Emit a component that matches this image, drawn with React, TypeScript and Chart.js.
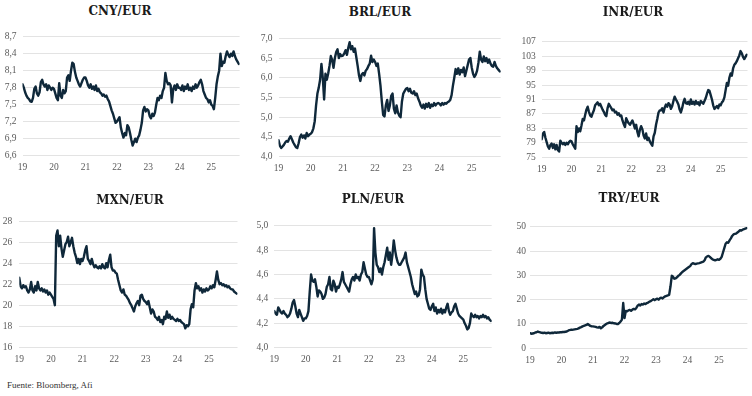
import React, { useEffect, useRef } from "react";
import { Chart, registerables } from "chart.js";

Chart.register(...registerables);

// ---------- data (semi-monthly readings, Jan 2019 – Nov 2025) ----------
const FIRST_YEAR = 2019;
const STEPS_PER_YEAR = 24;
const X_MAX = 2025.9;
const YEAR_TICKS = [2019, 2020, 2021, 2022, 2023, 2024, 2025];

const CNY = [
  7.86, 7.80, 7.72, 7.66, 7.62, 7.60, 7.56, 7.55, 7.62, 7.78, 7.82, 7.70, 7.66, 7.72, 7.90, 7.94, 7.86, 7.82, 7.86, 7.76, 7.84, 7.80, 7.76, 7.80,
  7.78, 7.70, 7.62, 7.58, 7.88, 7.66, 7.62, 7.76, 7.70, 7.74, 7.98, 8.02, 7.92, 8.10, 8.24, 8.22, 8.08, 7.98, 7.92, 7.86, 7.82, 7.88, 7.94, 7.98,
  7.98, 7.92, 7.84, 7.80, 7.86, 7.78, 7.82, 7.76, 7.84, 7.74, 7.78, 7.72, 7.70, 7.66, 7.68, 7.64, 7.66, 7.60, 7.56, 7.48, 7.40, 7.34, 7.26, 7.18,
  7.20, 7.24, 7.28, 7.10, 7.00, 6.92, 7.00, 6.96, 7.14, 7.10, 7.00, 6.88, 6.78, 6.84, 6.90, 6.84, 6.92, 6.96, 7.06, 7.18, 7.40, 7.46, 7.38, 7.42,
  7.40, 7.30, 7.26, 7.34, 7.30, 7.36, 7.50, 7.62, 7.58, 7.66, 7.62, 7.74, 7.80, 8.06, 7.92, 7.86, 7.88, 7.84, 7.54, 7.78, 7.84, 7.76, 7.86, 7.80,
  7.80, 7.76, 7.84, 7.74, 7.82, 7.78, 7.86, 7.76, 7.80, 7.74, 7.82, 7.78, 7.86, 7.80, 7.84, 7.90, 7.94, 7.86, 7.74, 7.68, 7.62, 7.60, 7.54, 7.58,
  7.50, 7.48, 7.42, 7.62, 7.86, 8.00, 8.10, 8.40, 8.18, 8.26, 8.24, 8.36, 8.44, 8.38, 8.34, 8.40, 8.36, 8.44, 8.36, 8.30, 8.26, 8.22,
];

const BRL = [
  4.42, 4.28, 4.22, 4.26, 4.30, 4.36, 4.40, 4.38, 4.46, 4.52, 4.44, 4.36, 4.30, 4.24, 4.22, 4.34, 4.50, 4.56, 4.48, 4.54, 4.46, 4.60, 4.52, 4.56,
  4.58, 4.62, 4.72, 4.90, 5.30, 5.60, 5.75, 5.95, 6.35, 6.00, 5.45, 6.10, 5.95, 6.10, 6.30, 6.55, 6.45, 6.25, 6.50, 6.65, 6.72, 6.50, 6.60, 6.55,
  6.56, 6.62, 6.70, 6.58, 6.76, 6.90, 6.72, 6.80, 6.66, 6.74, 6.52, 6.30, 6.06, 5.92, 6.08, 6.12, 6.06, 6.18, 6.22, 6.30, 6.36, 6.56, 6.40, 6.46,
  6.40, 6.30, 6.36, 6.10, 5.80, 5.40, 5.06, 5.02, 5.30, 5.44, 5.16, 5.30, 5.54, 5.60, 5.22, 5.10, 5.30, 5.12, 5.04, 5.00, 5.40, 5.60, 5.66, 5.72,
  5.74, 5.66, 5.72, 5.62, 5.60, 5.66, 5.56, 5.60, 5.48, 5.40, 5.30, 5.24, 5.32, 5.22, 5.34, 5.26, 5.36, 5.24, 5.32, 5.28, 5.36, 5.30, 5.34, 5.36,
  5.34, 5.30, 5.36, 5.32, 5.36, 5.34, 5.38, 5.40, 5.44, 5.56, 5.80, 6.00, 6.22, 6.10, 6.24, 6.08, 6.20, 6.14, 6.26, 6.04, 6.18, 6.32, 6.46, 6.50,
  6.26, 6.10, 6.02, 6.08, 6.18, 6.38, 6.66, 6.46, 6.40, 6.54, 6.42, 6.50, 6.38, 6.46, 6.36, 6.30, 6.28, 6.40, 6.30, 6.24, 6.20, 6.16,
];

const INR = [
  80.0, 81.6, 82.0, 80.4, 79.2, 78.0, 77.4, 78.4, 78.8, 77.6, 78.6, 77.2, 78.4, 77.0, 76.6, 79.6, 79.0, 78.6, 79.0, 78.4, 79.0, 78.6, 79.2, 79.6,
  79.4, 78.6, 78.0, 77.4, 83.6, 82.0, 83.0, 82.2, 83.8, 85.6, 85.2, 86.8, 88.2, 89.0, 87.6, 86.6, 86.2, 87.2, 88.0, 89.4, 89.8, 90.2, 89.4, 89.8,
  89.0, 88.2, 87.6, 86.8, 86.4, 88.6, 89.8, 89.2, 88.6, 88.0, 88.2, 87.4, 87.6, 86.8, 87.2, 86.4, 86.6, 85.2, 84.2, 83.4, 85.8, 85.0, 84.4, 84.0,
  84.6, 85.2, 84.2, 83.0, 84.0, 82.0, 80.8, 82.6, 83.6, 82.8, 81.0, 80.2, 81.6, 79.8, 80.4, 79.4, 78.8, 78.2, 80.8, 81.8, 84.0, 85.6, 87.4, 88.0,
  88.0, 88.6, 87.4, 88.8, 89.6, 89.0, 90.0, 89.6, 88.4, 89.2, 90.6, 91.8, 91.0, 90.4, 89.6, 88.2, 87.4, 88.6, 90.2, 91.2, 90.0, 89.8, 90.4, 89.6,
  91.0, 89.8, 90.4, 89.6, 90.6, 89.8, 90.2, 89.4, 90.6, 90.2, 89.8, 90.6, 91.4, 92.6, 93.6, 93.4, 92.2, 91.0, 89.4, 88.4, 88.8, 89.2, 88.6, 89.6,
  89.4, 90.2, 90.6, 91.6, 93.6, 95.6, 94.8, 97.0, 98.2, 97.6, 99.6, 100.6, 101.0, 101.6, 102.4, 103.2, 104.4, 103.8, 102.8, 102.2, 102.8, 103.4,
];

const MXN = [
  22.6, 21.8, 21.6, 21.9, 21.7, 21.8, 21.4, 21.2, 21.5, 22.2, 21.4, 21.2, 21.8, 21.4, 22.2, 21.6, 21.4, 21.6, 21.3, 21.5, 21.2, 21.4, 21.0, 21.2,
  21.0, 20.8, 20.6, 20.0, 26.6, 27.1, 25.6, 26.6, 25.4, 24.6, 25.2, 25.8, 26.0, 26.5, 25.6, 26.0, 26.4, 25.6, 25.0, 24.6, 24.0, 24.4, 23.9, 24.4,
  24.2, 24.6, 25.2, 25.6, 24.4, 24.2, 23.9, 24.4, 23.9, 23.6, 23.8, 23.6, 23.5, 23.7, 23.5, 23.9, 23.6, 23.5, 24.0, 23.6, 24.3, 24.8, 23.6, 23.3,
  23.3, 23.1, 23.0, 22.4, 21.9, 21.4, 21.2, 21.5, 21.0, 20.9, 20.7, 20.5, 20.2, 20.0, 19.7, 19.4, 19.9, 20.2, 20.4, 20.0, 20.9, 21.0, 20.6, 20.4,
  20.3, 20.1, 20.4, 19.8, 19.2, 19.6, 19.4, 18.9, 18.8, 18.6, 18.9, 18.4, 18.6, 18.2, 18.9, 18.7, 19.4, 18.8, 19.1, 18.7, 18.9, 18.7, 18.6, 18.5,
  18.7, 18.5, 18.6, 18.4, 18.3, 18.2, 17.8, 18.1, 18.0, 18.2, 19.6, 20.1, 19.8, 21.4, 22.1, 21.6, 21.8, 21.4, 21.6, 21.2, 21.5, 21.3, 21.6, 21.4,
  21.5, 21.8, 21.6, 21.9, 21.7, 22.4, 23.2, 22.4, 22.0, 22.1, 21.9, 22.0, 21.8, 21.9, 21.7, 21.8, 21.6, 21.5, 21.5, 21.3, 21.2, 21.1,
];

const PLN = [
  4.30, 4.28, 4.27, 4.33, 4.31, 4.29, 4.28, 4.30, 4.28, 4.27, 4.25, 4.26, 4.28, 4.32, 4.37, 4.39, 4.34, 4.28, 4.25, 4.31, 4.28, 4.25, 4.22, 4.24,
  4.24, 4.26, 4.30, 4.46, 4.60, 4.55, 4.54, 4.56, 4.50, 4.42, 4.47, 4.46, 4.44, 4.40, 4.41, 4.44, 4.50, 4.52, 4.58, 4.48, 4.47, 4.55, 4.52, 4.46,
  4.50, 4.49, 4.52, 4.56, 4.62, 4.54, 4.52, 4.50, 4.48, 4.46, 4.52, 4.56, 4.58, 4.55, 4.60, 4.57, 4.58, 4.55, 4.60, 4.62, 4.70, 4.65, 4.60, 4.58,
  4.58, 4.55, 4.52, 4.56, 4.98, 4.78, 4.68, 4.66, 4.62, 4.65, 4.60, 4.66, 4.70, 4.76, 4.82, 4.72, 4.78, 4.68, 4.76, 4.88, 4.80, 4.74, 4.70, 4.68,
  4.68, 4.70, 4.72, 4.74, 4.78, 4.70, 4.66, 4.62, 4.58, 4.52, 4.48, 4.44, 4.46, 4.42, 4.43, 4.48, 4.64, 4.60, 4.58, 4.48, 4.40, 4.36, 4.32, 4.31,
  4.34, 4.36, 4.30, 4.33, 4.28, 4.31, 4.29, 4.32, 4.28, 4.31, 4.29, 4.33, 4.36, 4.30, 4.27, 4.29, 4.30, 4.34, 4.36, 4.32, 4.28, 4.26, 4.25, 4.24,
  4.23, 4.20, 4.18, 4.15, 4.16, 4.20, 4.28, 4.26, 4.25, 4.27, 4.25, 4.26, 4.24, 4.26, 4.25, 4.27, 4.25, 4.26, 4.24, 4.25, 4.23, 4.22,
];

const TRY = [
  6.2, 6.0, 6.1, 6.2, 6.5, 6.6, 6.9, 6.7, 6.5, 6.4, 6.3, 6.4, 6.2, 6.3, 6.4, 6.2, 6.3, 6.4, 6.3, 6.5, 6.4, 6.5, 6.5, 6.6,
  6.6, 6.7, 6.7, 6.8, 6.9, 7.2, 7.5, 7.6, 7.6, 7.7, 7.8, 7.9, 8.0, 8.2, 8.5, 8.7, 9.0, 9.2, 9.4, 9.6, 10.0, 9.6, 9.2, 9.0,
  9.0, 8.9, 8.8, 8.6, 8.5, 8.8, 8.2, 8.6, 9.2, 9.6, 10.0, 10.3, 10.5, 10.6, 10.4, 10.5, 10.3, 10.2, 10.0, 10.0, 10.4, 11.0, 11.8, 18.6,
  12.4, 15.4, 15.2, 15.6, 15.8, 15.4, 15.9, 16.2, 16.0, 16.6, 17.5, 18.0, 17.6, 18.2, 18.0, 18.4, 18.2, 18.6, 18.8, 19.2, 19.4, 19.8, 20.2, 19.8,
  20.2, 20.4, 20.0, 20.6, 20.8, 20.5, 21.0, 21.4, 21.6, 21.8, 22.0, 25.4, 29.8, 29.4, 28.6, 28.8, 29.2, 29.8, 30.2, 30.8, 31.4, 31.8, 32.2, 32.6,
  33.0, 33.4, 33.8, 34.6, 35.0, 34.8, 34.6, 34.8, 34.9, 35.0, 35.2, 35.4, 35.6, 36.2, 37.4, 37.8, 38.0, 37.6, 37.0, 36.6, 36.4, 36.2, 36.4, 36.6,
  36.4, 36.8, 37.6, 39.4, 41.2, 43.0, 43.6, 43.4, 44.4, 45.2, 46.2, 46.8, 47.0, 47.2, 47.6, 48.0, 48.6, 48.4, 48.8, 49.0, 49.2, 49.4,
];

const CNY_TICKS = [6.6, 6.9, 7.2, 7.5, 7.8, 8.1, 8.4, 8.7];
const BRL_TICKS = [4.0, 4.5, 5.0, 5.5, 6.0, 6.5, 7.0];
const INR_TICKS = [75, 79, 83, 87, 91, 95, 99, 103, 107];
const MXN_TICKS = [16, 18, 20, 22, 24, 26, 28];
const PLN_TICKS = [4.0, 4.2, 4.4, 4.6, 4.8, 5.0];
const TRY_TICKS = [0, 10, 20, 30, 40, 50];

const SOURCE = "Fuente: Bloomberg, Afi";

// ---------- styling / layout ----------
const LINE_COLOR = "#0f283a";
const GRID_COLOR = "#e3e3e3";
const TICK_COLOR = "#5a5a5a";
const TICK_FONT = { family: "'Liberation Serif', serif", size: 9.5 };
const X_AXIS_H = 20;

type PanelDef = {
  title: string;
  values: number[];
  ticks: number[];
  decimals: number;
  cx: number; cy: number; cw: number; ch: number;
  L: number; R: number; T: number; B: number;
  tickPad: number;
  titleX: number; titleY: number;
};

const PANELS: PanelDef[] = [
  { title: "CNY/EUR", values: CNY, ticks: CNY_TICKS, decimals: 1, cx: 0, cy: 20, cw: 250, ch: 170, L: 22.5, R: 239.6, T: 36.7, B: 155.7, tickPad: 6, titleX: 120, titleY: 11 },
  { title: "BRL/EUR", values: BRL, ticks: BRL_TICKS, decimals: 1, cx: 250, cy: 20, cw: 252, ch: 170, L: 278.5, R: 500.7, T: 38.3, B: 156.7, tickPad: 6, titleX: 380, titleY: 12 },
  { title: "INR/EUR", values: INR, ticks: INR_TICKS, decimals: 0, cx: 500, cy: 20, cw: 252, ch: 170, L: 541.7, R: 747.5, T: 41.7, B: 157.3, tickPad: 6, titleX: 633, titleY: 12 },
  { title: "MXN/EUR", values: MXN, ticks: MXN_TICKS, decimals: 0, cx: 0, cy: 205, cw: 250, ch: 170, L: 19.3, R: 237.5, T: 221, B: 347.3, tickPad: 7, titleX: 130, titleY: 200 },
  { title: "PLN/EUR", values: PLN, ticks: PLN_TICKS, decimals: 1, cx: 250, cy: 205, cw: 252, ch: 170, L: 274.3, R: 491.7, T: 225.7, B: 347.7, tickPad: 6, titleX: 373, titleY: 199 },
  { title: "TRY/EUR", values: TRY, ticks: TRY_TICKS, decimals: 0, cx: 500, cy: 205, cw: 252, ch: 170, L: 530, R: 747.4, T: 226.7, B: 348.3, tickPad: 4, titleX: 629, titleY: 198 },
];

function Panel({ p }: { p: PanelDef }) {
  const ref = useRef<HTMLCanvasElement | null>(null);

  useEffect(() => {
    const canvas = ref.current;
    if (!canvas) return;
    const points = p.values.map((v, i) => ({ x: FIRST_YEAR + i / STEPS_PER_YEAR, y: v }));
    const yW = p.L - p.cx;
    const padRight = p.cx + p.cw - p.R;
    const padTop = p.T - p.cy;
    const padBottom = p.cy + p.ch - p.B - X_AXIS_H;

    const chart = new Chart(canvas, {
      type: "line",
      data: {
        datasets: [
          {
            data: points,
            borderColor: LINE_COLOR,
            borderWidth: 2.4,
            borderJoinStyle: "round",
            borderCapStyle: "round",
            pointRadius: 0,
            tension: 0,
            fill: false,
          },
        ],
      },
      options: {
        animation: false,
        responsive: false,
        maintainAspectRatio: false,
        devicePixelRatio: 1,
        layout: { padding: { left: 0, right: padRight, top: padTop, bottom: padBottom } },
        plugins: {
          legend: { display: false },
          tooltip: { enabled: false },
          title: { display: false },
        },
        scales: {
          x: {
            type: "linear",
            min: FIRST_YEAR,
            max: X_MAX,
            grid: { display: false, drawTicks: false },
            border: { display: false },
            ticks: {
              color: TICK_COLOR,
              font: TICK_FONT,
              padding: 6,
              autoSkip: false,
              maxRotation: 0,
              callback: (v: any) => String(v).slice(2),
            },
            afterBuildTicks: (s: any) => {
              s.ticks = YEAR_TICKS.map((v) => ({ value: v }));
            },
            afterFit: (s: any) => {
              s.height = X_AXIS_H;
            },
          },
          y: {
            type: "linear",
            min: p.ticks[0],
            max: p.ticks[p.ticks.length - 1],
            grid: { color: GRID_COLOR, lineWidth: 1, drawTicks: false },
            border: { display: false },
            ticks: {
              color: TICK_COLOR,
              font: TICK_FONT,
              padding: p.tickPad,
              callback: (v: any) => Number(v).toFixed(p.decimals).replace(".", ","),
            },
            afterBuildTicks: (s: any) => {
              s.ticks = p.ticks.map((v) => ({ value: v }));
            },
            afterFit: (s: any) => {
              s.width = yW;
            },
          },
        },
      },
    });
    return () => chart.destroy();
  }, [p]);

  return (
    <>
      <canvas
        ref={ref}
        width={p.cw}
        height={p.ch}
        style={{ position: "absolute", left: p.cx, top: p.cy, width: p.cw, height: p.ch }}
      />
      <div
        style={{
          position: "absolute",
          left: p.titleX - 100,
          top: p.titleY - 8,
          width: 200,
          height: 16,
          lineHeight: "16px",
          textAlign: "center",
          fontFamily: "'DejaVu Serif', serif",
          fontWeight: 700,
          fontSize: 12,
          color: "#1a1a1a",
          whiteSpace: "nowrap",
        }}
      >
        {p.title}
      </div>
    </>
  );
}

export default function App() {
  return (
    <div
      style={{
        position: "absolute",
        left: 0,
        top: 0,
        width: 752,
        height: 396,
        background: "#ffffff",
        overflow: "hidden",
      }}
    >
      {PANELS.map((p) => (
        <Panel key={p.title} p={p} />
      ))}
      <div
        style={{
          position: "absolute",
          left: 7,
          top: 379,
          height: 12,
          lineHeight: "12px",
          fontFamily: "'Liberation Serif', serif",
          fontSize: 9,
          color: "#333333",
          whiteSpace: "nowrap",
        }}
      >
        {SOURCE}
      </div>
    </div>
  );
}
